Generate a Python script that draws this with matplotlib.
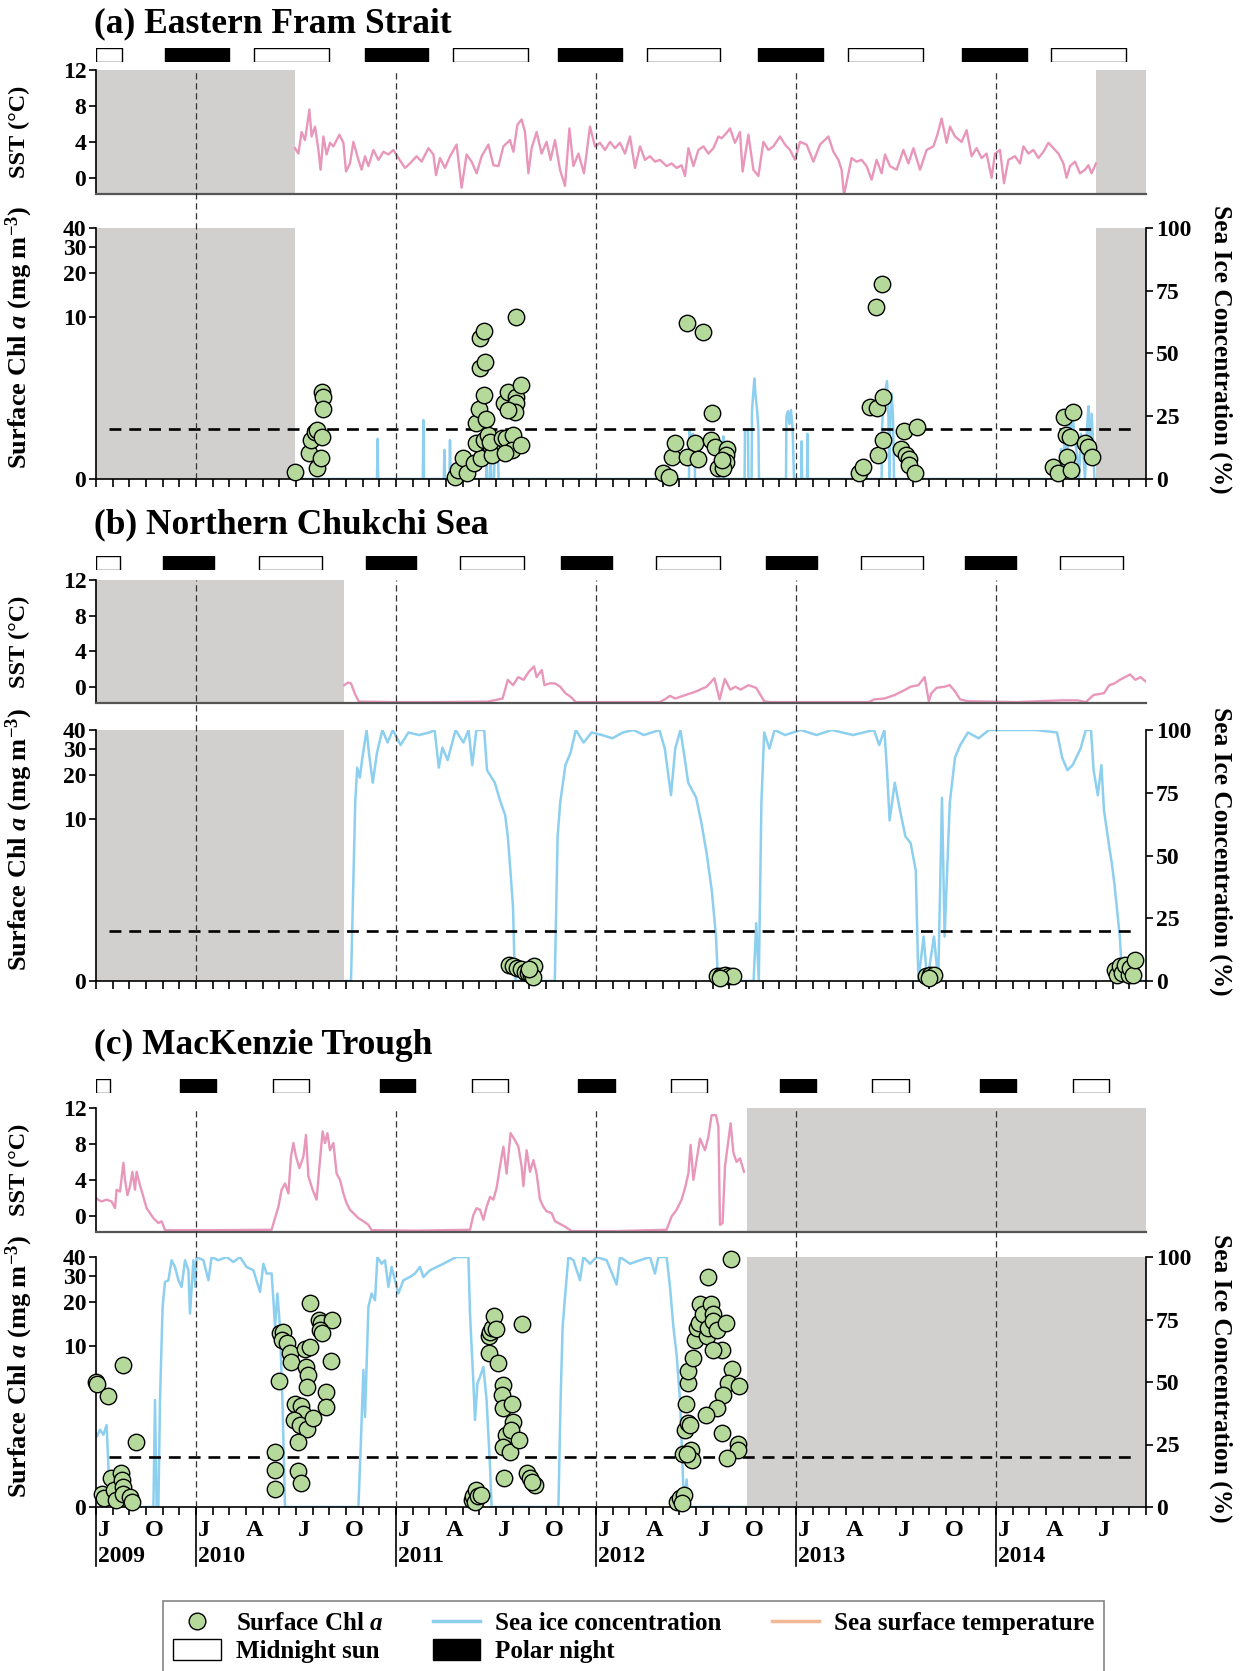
import numpy as np
import matplotlib
matplotlib.use("Agg")
import matplotlib.pyplot as plt
import matplotlib.transforms as mtransforms
from matplotlib.lines import Line2D
from matplotlib.patches import Patch
from matplotlib.ticker import NullLocator

plt.rcParams['font.family'] = ['Liberation Serif', 'DejaVu Serif']
plt.rcParams['font.weight'] = 'bold'
plt.rcParams['mathtext.fontset'] = 'custom'
plt.rcParams['mathtext.rm'] = 'Liberation Serif:bold'
plt.rcParams['mathtext.it'] = 'Liberation Serif:bold:italic'
plt.rcParams['mathtext.bf'] = 'Liberation Serif:bold'

# ---------------- data (time in decimal years) ----------------
FRAM_SST = [
    (2010.495, 3.3), (2010.512, 2.7), (2010.528, 5.1), (2010.545, 4.2), (2010.567, 7.6), (2010.578, 4.6),
    (2010.595, 5.7), (2010.612, 3.1), (2010.623, 0.9), (2010.637, 4.6), (2010.653, 2.6), (2010.670, 3.9),
    (2010.687, 3.5), (2010.717, 4.8), (2010.737, 3.9), (2010.750, 0.7), (2010.770, 1.6), (2010.787, 4.0),
    (2010.812, 2.0), (2010.828, 0.9), (2010.845, 2.4), (2010.862, 1.3), (2010.887, 3.1), (2010.912, 2.0),
    (2010.937, 2.9), (2010.962, 2.6), (2010.987, 3.1), (2011.012, 2.2), (2011.045, 1.1), (2011.070, 1.6),
    (2011.103, 2.4), (2011.128, 1.8), (2011.162, 3.3), (2011.187, 2.6), (2011.200, 0.3), (2011.220, 2.2),
    (2011.245, 1.1), (2011.270, 2.4), (2011.303, 3.7), (2011.328, -1.1), (2011.353, 2.6), (2011.378, 1.8),
    (2011.403, 0.5), (2011.428, 2.4), (2011.462, 3.7), (2011.487, 1.4), (2011.512, 1.3), (2011.537, 3.5),
    (2011.570, 4.2), (2011.587, 2.9), (2011.607, 5.9), (2011.628, 6.5), (2011.645, 5.1), (2011.662, 0.5),
    (2011.678, 3.3), (2011.703, 5.1), (2011.728, 2.7), (2011.753, 4.0), (2011.773, 2.0), (2011.795, 4.2),
    (2011.820, 0.9), (2011.845, -0.9), (2011.867, 5.5), (2011.887, 1.3), (2011.912, 2.7), (2011.940, 0.5),
    (2011.970, 5.7), (2011.995, 3.5), (2012.020, 3.9), (2012.045, 3.1), (2012.070, 4.0), (2012.095, 3.3),
    (2012.120, 3.9), (2012.145, 2.7), (2012.170, 4.6), (2012.195, 1.1), (2012.220, 3.5), (2012.245, 2.0),
    (2012.270, 2.4), (2012.295, 1.8), (2012.320, 2.0), (2012.353, 1.3), (2012.378, 1.6), (2012.403, 1.1),
    (2012.428, 1.4), (2012.445, 0.2), (2012.462, 3.3), (2012.487, 1.3), (2012.512, 3.1), (2012.537, 3.5),
    (2012.562, 2.7), (2012.587, 3.3), (2012.612, 4.6), (2012.628, 4.4), (2012.653, 5.0), (2012.670, 5.5),
    (2012.695, 3.9), (2012.720, 5.1), (2012.733, 0.7), (2012.762, 4.8), (2012.787, 0.9), (2012.812, 0.2),
    (2012.837, 4.0), (2012.862, 3.1), (2012.887, 3.5), (2012.920, 4.6), (2012.945, 3.7), (2012.970, 3.1),
    (2012.995, 2.0), (2013.020, 4.0), (2013.053, 3.7), (2013.087, 1.8), (2013.120, 3.7), (2013.162, 4.6),
    (2013.187, 2.9), (2013.212, 2.0), (2013.228, 0.9), (2013.240, -1.9), (2013.262, 0.5), (2013.278, 2.2),
    (2013.303, 1.8), (2013.328, 2.0), (2013.353, 1.3), (2013.378, -0.2), (2013.403, 2.0), (2013.428, 0.5),
    (2013.445, 2.6), (2013.470, 1.3), (2013.503, 0.9), (2013.537, 3.1), (2013.562, 1.6), (2013.587, 3.3),
    (2013.620, 0.9), (2013.653, 3.1), (2013.687, 3.5), (2013.707, 4.8), (2013.728, 6.6), (2013.753, 3.9),
    (2013.770, 5.7), (2013.795, 4.6), (2013.828, 4.0), (2013.853, 5.3), (2013.878, 2.4), (2013.903, 3.3),
    (2013.928, 2.2), (2013.953, 2.7), (2013.978, 0.0), (2013.995, 2.7), (2014.020, 3.1), (2014.040, -0.6),
    (2014.062, 2.0), (2014.095, 2.4), (2014.120, 1.6), (2014.137, 3.5), (2014.162, 2.7), (2014.187, 3.1),
    (2014.212, 2.2), (2014.237, 2.9), (2014.262, 3.9), (2014.287, 3.3), (2014.312, 2.7), (2014.337, 1.6),
    (2014.353, 0.0), (2014.370, 1.3), (2014.395, 1.8), (2014.420, 0.5), (2014.445, 0.9), (2014.462, 1.4),
    (2014.478, 0.5), (2014.500, 1.6),
]
FRAM_ICE = [
    (2010.495, 0), (2010.905, 0), (2010.908, 16), (2010.911, 0), (2011.134, 0), (2011.137, 23.5), (2011.140, 0),
    (2011.239, 0), (2011.242, 11.6), (2011.245, 0), (2011.267, 0), (2011.270, 15.5), (2011.273, 0),
    (2011.450, 0), (2011.453, 8.4), (2011.457, 0), (2011.470, 0), (2011.473, 10), (2011.477, 0),
    (2011.490, 0), (2011.493, 9), (2011.497, 8), (2011.510, 9), (2011.513, 0),
    (2012.465, 0), (2012.467, 19), (2012.475, 17), (2012.485, 18), (2012.493, 15), (2012.495, 0),
    (2012.635, 0), (2012.637, 17), (2012.640, 0), (2012.743, 0), (2012.745, 19.5), (2012.760, 19.5), (2012.762, 0),
    (2012.778, 0), (2012.780, 27), (2012.787, 35), (2012.792, 40), (2012.798, 33), (2012.805, 28), (2012.812, 20),
    (2012.815, 0), (2012.950, 0), (2012.952, 25), (2012.960, 27), (2012.967, 22), (2012.975, 27.5), (2012.983, 20),
    (2012.990, 0), (2013.026, 0), (2013.028, 15), (2013.031, 0), (2013.055, 0), (2013.057, 18), (2013.060, 0),
    (2013.428, 0), (2013.430, 20), (2013.437, 30), (2013.455, 39), (2013.462, 25), (2013.467, 0), (2013.470, 20),
    (2013.478, 34), (2013.485, 25), (2013.490, 0), (2014.320, 0), (2014.325, 12), (2014.335, 5), (2014.345, 18),
    (2014.355, 8), (2014.365, 22), (2014.375, 20), (2014.385, 23.5), (2014.395, 15), (2014.405, 10), (2014.415, 0),
    (2014.425, 18), (2014.435, 12), (2014.445, 0), (2014.455, 20), (2014.462, 29), (2014.470, 10), (2014.478, 26),
    (2014.485, 15), (2014.492, 0), (2014.500, 0),
]
FRAM_CHL = [
    (2010.495, 0.11), (2010.565, 0.46), (2010.575, 0.78), (2010.595, 1.01), (2010.603, 1.06), (2010.628, 0.87),
    (2010.607, 0.17), (2010.623, 0.36), (2010.628, 2.64), (2010.637, 2.35), (2010.633, 1.80),
    (2011.295, 0.03), (2011.312, 0.14), (2011.333, 0.36), (2011.353, 0.10), (2011.390, 0.26), (2011.425, 0.36),
    (2011.400, 0.70), (2011.440, 0.78), (2011.462, 0.92), (2011.473, 0.61), (2011.480, 0.43), (2011.470, 0.74),
    (2011.400, 1.28), (2011.415, 1.80), (2011.450, 1.42), (2011.442, 2.47), (2011.420, 4.14), (2011.445, 4.67),
    (2011.420, 7.02), (2011.442, 7.97), (2011.542, 2.06), (2011.558, 2.60), (2011.598, 2.35), (2011.600, 2.06),
    (2011.595, 1.71), (2011.562, 1.78), (2011.625, 3.02), (2011.528, 0.83), (2011.548, 0.83), (2011.587, 0.92),
    (2011.578, 0.54), (2011.625, 0.65), (2011.545, 0.46), (2011.598, 10.0),
    (2012.337, 0.09), (2012.367, 0.03), (2012.378, 0.39), (2012.395, 0.70), (2012.457, 9.0), (2012.537, 7.84),
    (2012.495, 0.70), (2012.457, 0.38), (2012.512, 0.35), (2012.582, 1.67), (2012.573, 0.78), (2012.595, 0.61),
    (2012.612, 0.17), (2012.653, 0.57), (2012.650, 0.43), (2012.648, 0.29), (2012.637, 0.17), (2012.628, 0.32),
    (2013.317, 0.10), (2013.337, 0.20), (2013.412, 0.43), (2013.433, 0.78), (2013.428, 16.9), (2013.400, 11.7),
    (2013.370, 1.89), (2013.403, 1.85), (2013.433, 2.38), (2013.540, 1.04), (2013.603, 1.15), (2013.525, 0.57),
    (2013.550, 0.43), (2013.565, 0.34), (2013.567, 0.23), (2013.595, 0.09),
    (2014.287, 0.20), (2014.312, 0.09), (2014.353, 0.39), (2014.373, 0.14), (2014.340, 1.51), (2014.383, 1.71),
    (2014.348, 0.92), (2014.370, 0.87), (2014.445, 0.70), (2014.462, 0.61), (2014.478, 0.38),
]
FRAM_GAPS = [(2009.5, 2010.495), (2014.5, 2014.75)]
FRAM_SUN = [(2009.5, 2009.632), (2010.288, 2010.664), (2011.283, 2011.662), (2012.253, 2012.62),
            (2013.258, 2013.633), (2014.273, 2014.65)]
FRAM_NIGHT = [(2009.846, 2010.166), (2010.845, 2011.162), (2011.812, 2012.128), (2012.812, 2013.133),
              (2013.832, 2014.153)]

CHUK_SST = [
    (2010.741, 0.2), (2010.760, 0.5), (2010.775, 0.4), (2010.795, -0.8), (2010.814, -1.64), (2011.000, -1.7),
    (2011.200, -1.7), (2011.455, -1.65), (2011.468, -1.6), (2011.533, -1.3), (2011.559, 0.8), (2011.585, 0.2),
    (2011.611, 1.1), (2011.638, 0.8), (2011.664, 1.7), (2011.690, 2.3), (2011.703, 1.1), (2011.729, 1.9),
    (2011.742, 0.2), (2011.768, 0.4), (2011.794, 0.4), (2011.821, 0.03), (2011.847, -0.7), (2011.873, -1.1),
    (2011.899, -1.7), (2012.100, -1.7), (2012.317, -1.7), (2012.344, -1.4), (2012.370, -1.0), (2012.396, -1.3),
    (2012.448, -0.9), (2012.501, -0.5), (2012.553, 0.03), (2012.592, 0.97), (2012.618, -1.4), (2012.644, 0.9),
    (2012.671, -0.3), (2012.697, 0.03), (2012.723, -0.3), (2012.762, 0.2), (2012.801, -0.1), (2012.841, -1.6),
    (2012.867, -1.7), (2013.100, -1.7), (2013.364, -1.7), (2013.390, -1.4), (2013.442, -1.3), (2013.494, -0.9),
    (2013.547, -0.3), (2013.573, 0.03), (2013.612, 0.2), (2013.643, 1.1), (2013.664, -1.6), (2013.677, -0.7),
    (2013.703, -0.1), (2013.743, 0.03), (2013.769, 0.2), (2013.795, -0.5), (2013.821, -1.4), (2013.860, -1.6),
    (2014.100, -1.7), (2014.331, -1.5), (2014.409, -1.5), (2014.449, -1.7), (2014.488, -0.9), (2014.540, -0.7),
    (2014.566, 0.2), (2014.593, 0.4), (2014.619, 0.8), (2014.645, 1.1), (2014.671, 1.4), (2014.697, 0.8),
    (2014.723, 1.1), (2014.749, 0.6),
]
CHUK_ICE = [
    (2010.741, 0), (2010.775, 0), (2010.796, 71), (2010.806, 85), (2010.819, 81), (2010.832, 89), (2010.853, 100),
    (2010.866, 90), (2010.884, 79), (2010.905, 91), (2010.932, 100), (2010.958, 95), (2010.984, 100),
    (2011.023, 94), (2011.062, 99), (2011.115, 98), (2011.167, 99), (2011.193, 100), (2011.214, 85),
    (2011.232, 93), (2011.258, 88), (2011.298, 100), (2011.337, 95), (2011.363, 100), (2011.381, 86),
    (2011.402, 100), (2011.441, 100), (2011.455, 84), (2011.494, 79), (2011.520, 72), (2011.546, 66),
    (2011.559, 57.6), (2011.572, 44), (2011.585, 29.6), (2011.591, 11), (2011.598, 0), (2011.794, 0),
    (2011.808, 57.6), (2011.821, 71), (2011.847, 86), (2011.873, 91), (2011.899, 100), (2011.938, 95),
    (2011.978, 99), (2012.030, 98), (2012.082, 96.7), (2012.134, 99), (2012.187, 100), (2012.239, 98),
    (2012.317, 100), (2012.344, 92.6), (2012.375, 74), (2012.396, 92.6), (2012.422, 100), (2012.443, 89),
    (2012.461, 79), (2012.501, 73), (2012.527, 63), (2012.553, 51), (2012.579, 36), (2012.600, 17.7),
    (2012.610, 0), (2012.788, 0), (2012.801, 23), (2012.814, 0), (2012.827, 71), (2012.841, 99), (2012.867, 92.6),
    (2012.893, 100), (2012.945, 98), (2013.024, 100), (2013.102, 98), (2013.180, 100), (2013.285, 98),
    (2013.390, 100), (2013.416, 94), (2013.442, 100), (2013.455, 84), (2013.468, 64), (2013.494, 79),
    (2013.520, 68), (2013.547, 57.6), (2013.573, 55), (2013.599, 44), (2013.612, 0), (2013.638, 17.7),
    (2013.656, 0), (2013.690, 17.7), (2013.711, 0), (2013.730, 73), (2013.743, 17.7), (2013.769, 71),
    (2013.795, 89), (2013.821, 94), (2013.860, 99), (2013.913, 96.7), (2013.965, 100), (2014.070, 100),
    (2014.200, 100), (2014.305, 99), (2014.331, 89), (2014.357, 84), (2014.383, 86), (2014.423, 92.6),
    (2014.449, 100), (2014.475, 100), (2014.488, 84), (2014.509, 74), (2014.527, 86), (2014.540, 68),
    (2014.566, 53.5), (2014.579, 47), (2014.593, 38), (2014.619, 17.7), (2014.632, 0), (2014.749, 0),
]
CHUK_CHL = [
    (2011.564, 0.27), (2011.585, 0.25), (2011.606, 0.22), (2011.624, 0.19), (2011.643, 0.14), (2011.659, 0.12),
    (2011.677, 0.09), (2011.690, 0.24), (2011.685, 0.06), (2011.664, 0.20),
    (2012.605, 0.07), (2012.626, 0.08), (2012.644, 0.09), (2012.663, 0.08), (2012.684, 0.07), (2012.618, 0.05),
    (2013.651, 0.07), (2013.672, 0.09), (2013.690, 0.10), (2013.664, 0.05),
    (2014.593, 0.18), (2014.606, 0.09), (2014.619, 0.24), (2014.632, 0.12), (2014.645, 0.27), (2014.666, 0.09),
    (2014.671, 0.22), (2014.684, 0.09), (2014.697, 0.36),
]
CHUK_GAPS = [(2009.5, 2010.741)]
CHUK_SUN = [(2009.5, 2009.622), (2010.314, 2010.628), (2011.321, 2011.64), (2012.301, 2012.62),
            (2013.323, 2013.637), (2014.32, 2014.633)]
CHUK_NIGHT = [(2009.835, 2010.091), (2010.852, 2011.102), (2011.827, 2012.082), (2012.85, 2013.105),
              (2013.845, 2014.101)]

MACK_SST = [
    (2009.500, 2.0), (2009.510, 1.8), (2009.528, 1.6), (2009.553, 1.8), (2009.578, 1.6), (2009.595, 0.85),
    (2009.603, 2.9), (2009.620, 2.7), (2009.637, 5.9), (2009.645, 4.0), (2009.657, 2.3), (2009.670, 3.3),
    (2009.682, 4.9), (2009.695, 2.9), (2009.703, 4.9), (2009.720, 3.4), (2009.737, 2.1), (2009.753, 0.85),
    (2009.770, 0.3), (2009.787, -0.26), (2009.812, -0.8), (2009.828, -0.6), (2009.845, -1.6), (2010.100, -1.6),
    (2010.378, -1.55), (2010.395, -0.26), (2010.412, 1.0), (2010.428, 2.9), (2010.445, 3.6), (2010.462, 2.5),
    (2010.475, 6.6), (2010.487, 8.1), (2010.500, 6.6), (2010.517, 5.3), (2010.537, 6.6), (2010.550, 9.0),
    (2010.562, 4.4), (2010.583, 2.9), (2010.603, 1.8), (2010.620, 6.2), (2010.633, 9.4), (2010.645, 8.1),
    (2010.657, 9.2), (2010.670, 7.3), (2010.687, 8.1), (2010.703, 4.7), (2010.720, 4.0), (2010.737, 2.5),
    (2010.753, 1.4), (2010.770, 0.67), (2010.787, 0.3), (2010.812, -0.26), (2010.837, -0.6), (2010.862, -1.0),
    (2010.878, -1.6), (2011.100, -1.65), (2011.370, -1.55), (2011.387, 0.1), (2011.403, 0.85), (2011.420, 0.67),
    (2011.437, -0.44), (2011.453, 1.0), (2011.470, 2.1), (2011.487, 1.8), (2011.503, 3.1), (2011.520, 5.5),
    (2011.537, 7.7), (2011.553, 4.7), (2011.573, 9.2), (2011.595, 8.4), (2011.612, 7.7), (2011.628, 5.5),
    (2011.637, 3.3), (2011.653, 7.3), (2011.670, 4.9), (2011.687, 6.2), (2011.703, 4.7), (2011.720, 1.8),
    (2011.737, 1.0), (2011.753, 0.5), (2011.778, 0.3), (2011.795, -0.6), (2011.812, -0.8), (2011.845, -1.2),
    (2011.878, -1.7), (2012.100, -1.7), (2012.353, -1.55), (2012.378, -0.07), (2012.403, 0.67), (2012.428, 1.8),
    (2012.445, 3.1), (2012.462, 4.7), (2012.473, 7.9), (2012.487, 4.0), (2012.503, 6.2), (2012.520, 8.6),
    (2012.545, 7.3), (2012.562, 8.8), (2012.578, 11.2), (2012.600, 11.2), (2012.612, 9.9), (2012.620, -1.0),
    (2012.633, -0.8), (2012.645, 5.5), (2012.662, 8.4), (2012.673, 10.3), (2012.687, 7.0), (2012.703, 6.0),
    (2012.720, 6.4), (2012.740, 4.9),
]
MACK_ICE = [
    (2009.500, 29.5), (2009.505, 28.2), (2009.520, 30.9), (2009.537, 28.9), (2009.553, 32.8), (2009.562, 16.2),
    (2009.570, 0), (2009.787, 0), (2009.795, 42.8), (2009.803, 0), (2009.812, 0), (2009.820, 42.8),
    (2009.833, 80), (2009.845, 90), (2009.862, 90.7), (2009.878, 98.7), (2009.895, 96), (2009.912, 90.7),
    (2009.928, 88), (2009.945, 98.7), (2009.962, 94.7), (2009.970, 77.4), (2009.987, 98.7), (2009.997, 88),
    (2010.003, 100), (2010.037, 98.7), (2010.062, 90.7), (2010.078, 100), (2010.112, 98.7), (2010.153, 100),
    (2010.187, 98), (2010.220, 100), (2010.253, 96), (2010.287, 94.7), (2010.320, 86), (2010.337, 97.3),
    (2010.353, 93.4), (2010.378, 93.4), (2010.387, 82.7), (2010.395, 72), (2010.407, 85.4), (2010.420, 72),
    (2010.433, 40), (2010.445, 0), (2010.812, 0), (2010.823, 22.9), (2010.837, 54.8), (2010.845, 36),
    (2010.862, 80), (2010.878, 85.4), (2010.895, 82.7), (2010.907, 100), (2010.928, 97.3), (2010.945, 98.7),
    (2010.962, 88), (2010.978, 96), (2010.995, 90.7), (2011.012, 85.4), (2011.037, 90.7), (2011.070, 92),
    (2011.095, 93.4), (2011.120, 96), (2011.137, 92), (2011.170, 94.7), (2011.203, 96), (2011.237, 97.3),
    (2011.270, 98.7), (2011.303, 100), (2011.362, 100), (2011.370, 77.4), (2011.387, 49.5), (2011.395, 34.8),
    (2011.407, 49.5), (2011.420, 52), (2011.437, 56), (2011.453, 42.8), (2011.470, 16.2), (2011.478, 0),
    (2011.812, 0), (2011.823, 42.8), (2011.833, 72), (2011.845, 84), (2011.862, 100), (2011.887, 98.7),
    (2011.920, 90.7), (2011.937, 100), (2011.970, 97.3), (2012.003, 100), (2012.053, 98.7), (2012.103, 89),
    (2012.120, 100), (2012.170, 97.3), (2012.220, 98.7), (2012.270, 100), (2012.295, 93.4), (2012.312, 100),
    (2012.353, 100), (2012.370, 88), (2012.387, 72), (2012.403, 61), (2012.420, 42.8), (2012.433, 16),
    (2012.440, 0), (2012.453, 11), (2012.462, 0), (2012.753, 0),
]
MACK_CHL = [
    (2009.500, 5.44), (2009.505, 5.2), (2009.562, 4.2), (2009.637, 7.24), (2009.700, 1.64), (2009.528, 0.21),
    (2009.540, 0.15), (2009.573, 0.53), (2009.590, 0.29), (2009.623, 0.65), (2009.632, 0.49), (2009.637, 0.35),
    (2009.600, 0.11), (2009.633, 0.22), (2009.670, 0.16), (2009.678, 0.08),
    (2010.395, 1.27), (2010.395, 0.73), (2010.395, 0.30), (2010.415, 5.5), (2010.420, 12.2), (2010.437, 12.5),
    (2010.428, 10.9), (2010.453, 10.4), (2010.470, 8.8), (2010.473, 7.66), (2010.495, 3.6), (2010.523, 3.5),
    (2010.533, 3.0), (2010.490, 2.64), (2010.520, 2.4), (2010.553, 2.2), (2010.583, 2.75), (2010.512, 1.64),
    (2010.512, 0.7), (2010.523, 0.43), (2010.545, 9.5), (2010.570, 9.7), (2010.550, 7.04), (2010.562, 6.1),
    (2010.557, 4.98), (2010.570, 19.8), (2010.617, 15.1), (2010.623, 14.3), (2010.678, 15.1), (2010.620, 12.8),
    (2010.632, 12.2), (2010.673, 7.8), (2010.650, 4.5), (2010.650, 3.44),
    (2011.378, 0.11), (2011.387, 0.17), (2011.400, 0.29), (2011.395, 0.08), (2011.412, 0.17), (2011.423, 0.20),
    (2011.467, 11.6), (2011.470, 12.5), (2011.478, 13.3), (2011.490, 16.1), (2011.500, 13.1), (2011.467, 8.8),
    (2011.512, 7.45), (2011.533, 5.1), (2011.528, 4.3), (2011.537, 3.33), (2011.578, 3.6), (2011.550, 1.9),
    (2011.587, 2.55), (2011.573, 2.14), (2011.537, 1.45), (2011.570, 1.27), (2011.617, 1.7), (2011.540, 0.53),
    (2011.628, 14.1), (2011.653, 0.65), (2011.670, 0.53), (2011.695, 0.39), (2011.678, 0.45),
    (2012.403, 0.08), (2012.420, 0.14), (2012.440, 0.19), (2012.428, 0.06), (2012.437, 1.2), (2012.473, 1.33),
    (2012.478, 1.0), (2012.453, 1.2), (2012.445, 2.14), (2012.462, 2.47), (2012.470, 2.4), (2012.450, 3.6),
    (2012.462, 5.3), (2012.462, 6.5), (2012.487, 8.1), (2012.495, 10.9), (2012.503, 13.2), (2012.517, 14.3),
    (2012.520, 19.4), (2012.537, 16.5), (2012.553, 11.7), (2012.562, 13.3), (2012.573, 19.4), (2012.583, 16.5),
    (2012.587, 14.8), (2012.603, 12.8), (2012.650, 14.3), (2012.628, 9.3), (2012.587, 9.3), (2012.562, 29.6),
    (2012.675, 39.0), (2012.678, 6.8), (2012.662, 5.3), (2012.717, 5.0), (2012.637, 4.3), (2012.603, 3.33),
    (2012.550, 2.95), (2012.628, 1.99), (2012.712, 1.55), (2012.712, 1.33), (2012.653, 1.07),
]
MACK_GAPS = [(2012.753, 2014.75)]
MACK_SUN = [(2009.5, 2009.569), (2010.383, 2010.565), (2011.379, 2011.56), (2012.375, 2012.556),
            (2013.382, 2013.563), (2014.383, 2014.564)]
MACK_NIGHT = [(2009.92, 2010.101), (2010.921, 2011.097), (2011.912, 2012.093), (2012.918, 2013.099),
              (2013.92, 2014.101)]

TITLES = ['(a) Eastern Fram Strait', '(b) Northern Chukchi Sea', '(c) MacKenzie Trough']
YEARS = [2009, 2010, 2011, 2012, 2013, 2014]
MONTH_LETTERS = {1: 'J', 4: 'A', 7: 'J', 10: 'O'}
ICE_THRESHOLD = 20

# ---------------- style / layout ----------------
SST_COLOR = '#e897bb'
ICE_COLOR = '#8dcfef'
CHL_FACE = '#b4d99b'
GRAY = '#d2cfcf'
X0, X1 = 2009.5, 2014.75
W_PX, H_PX, DPI = 1241, 1671, 100
LEFT, RIGHT = 96, 1146
TICK_FS = 17

# pixel rows (from top) of each panel: title, bar strip, SST axes, Chl axes
LAYOUT = [
    dict(title=24, bars=(48, 62), sst=(70, 194), chl=(228, 479)),
    dict(title=525, bars=(556, 570), sst=(580, 703), chl=(730, 981)),
    dict(title=1045, bars=(1079, 1093), sst=(1108, 1232), chl=(1257, 1507)),
]

fig = plt.figure(figsize=(W_PX / DPI, H_PX / DPI), dpi=DPI)


def rect(top, bottom):
    return [LEFT / W_PX, 1 - bottom / H_PX, (RIGHT - LEFT) / W_PX, (bottom - top) / H_PX]


def unpack(pairs):
    a = np.array(pairs, dtype=float)
    return a[:, 0], a[:, 1]


month_ticks = X0 + np.arange(0, 64) / 12.0


def draw_panel(i, sst, ice, chl, gaps, sun, night, bottom_labels):
    lay = LAYOUT[i]

    fig.text(LEFT / W_PX - 0.002, 1 - lay['title'] / H_PX, TITLES[i], fontsize=25.5,
             fontweight='bold', ha='left', va='center')

    # polar day / night strip
    axb = fig.add_axes(rect(*lay['bars']))
    axb.set_xlim(X0, X1)
    axb.set_ylim(0, 1)
    axb.axis('off')
    axb.broken_barh([(s, e - s) for s, e in sun], (0, 1), facecolors='white',
                    edgecolors='black', linewidth=1.0)
    axb.broken_barh([(s, e - s) for s, e in night], (0, 1), facecolors='black',
                    edgecolors='black', linewidth=1.0)

    # SST
    axs = fig.add_axes(rect(*lay['sst']))
    axs.set_xlim(X0, X1)
    axs.set_ylim(-1.8, 12)
    for s, e in gaps:
        axs.axvspan(s, e, color=GRAY, lw=0, zorder=0)
    t, v = unpack(sst)
    axs.plot(t, v, color=SST_COLOR, lw=1.7, zorder=2)
    axs.set_yticks([0, 4, 8, 12])
    axs.set_xticks([])
    axs.spines['top'].set_visible(False)
    axs.spines['right'].set_visible(False)
    axs.spines['bottom'].set_color('#555555')
    axs.spines['bottom'].set_linewidth(1.6)
    axs.spines['left'].set_linewidth(1.2)
    axs.tick_params(axis='y', direction='out', length=5, width=1.2, labelsize=TICK_FS, pad=2)
    sst_mid = (lay['sst'][0] + lay['sst'][1]) / 2
    fig.text(19 / W_PX, 1 - sst_mid / H_PX, 'SST (°C)', rotation=90, fontsize=17.5,
             fontweight='bold', ha='center', va='center')

    # Chl (left, log1p scale) over sea ice (right, linear)
    axc = fig.add_axes(rect(*lay['chl']))
    axi = axc.twinx()
    axc.set_zorder(axi.get_zorder() + 1)
    axc.patch.set_visible(False)

    axi.set_xlim(X0, X1)
    axi.set_ylim(0, 100)
    for s, e in gaps:
        axi.axvspan(s, e, color=GRAY, lw=0, zorder=0)
    t, v = unpack(ice)
    axi.plot(t, v, color=ICE_COLOR, lw=1.8, zorder=2)
    axi.axhline(ICE_THRESHOLD, xmin=0.012, xmax=0.992, color='black', lw=1.9,
                ls=(0, (4.5, 3)), zorder=3)
    axi.set_yticks([0, 25, 50, 75, 100])
    axi.tick_params(axis='y', direction='out', length=5, width=1.2, labelsize=TICK_FS, pad=2)
    for side in ['top', 'left', 'bottom']:
        axi.spines[side].set_visible(False)
    axi.spines['right'].set_linewidth(1.2)

    axc.set_xlim(X0, X1)
    axc.set_yscale('function', functions=(np.log1p, np.expm1))
    axc.set_ylim(0, 40)
    axc.set_yticks([0, 10, 20, 30, 40])
    axc.yaxis.set_minor_locator(NullLocator())
    t, v = unpack(chl)
    axc.scatter(t, v, s=140, facecolor=CHL_FACE, edgecolor='black', linewidth=1.0,
                zorder=4, clip_on=False)
    axc.set_xticks(month_ticks)
    axc.set_xticklabels([])
    axc.tick_params(axis='x', direction='out', length=6, width=1.2)
    axc.tick_params(axis='y', direction='out', length=5, width=1.2, labelsize=TICK_FS, pad=2)
    axc.spines['top'].set_visible(False)
    axc.spines['right'].set_visible(False)
    axc.spines['left'].set_linewidth(1.2)
    axc.spines['bottom'].set_linewidth(1.2)

    chl_mid = (lay['chl'][0] + lay['chl'][1]) / 2
    fig.text(19 / W_PX, 1 - (chl_mid - 16) / H_PX, 'Surface Chl $a$ (mg m$^{-3}$)',
             rotation=90, fontsize=19, fontweight='bold', ha='center', va='center')
    fig.text(1221 / W_PX, 1 - (chl_mid - 4) / H_PX, 'Sea Ice Concentration (%)',
             rotation=270, fontsize=18.3, fontweight='bold', ha='center', va='center')

    # year boundary dashed lines across the whole panel
    axo = fig.add_axes(rect(lay['sst'][0], lay['chl'][1]))
    axo.set_xlim(X0, X1)
    axo.set_ylim(0, 1)
    axo.axis('off')
    axo.patch.set_visible(False)
    axo.set_zorder(axc.get_zorder() + 1)
    for yr in YEARS[1:]:
        axo.axvline(yr, color='#333333', lw=0.9, ls=(0, (5, 3)))

    if bottom_labels:
        trans = mtransforms.blended_transform_factory(axc.transData, axc.transAxes)
        for yr in YEARS:
            x = max(yr, X0)
            axc.add_line(Line2D([x, x], [0, -0.235], transform=trans, color='black',
                                lw=1.2, clip_on=False))
            axc.text(x + 0.012, -0.2, str(yr), transform=trans, fontsize=17,
                     fontweight='bold', ha='left', va='center')
            for m, letter in MONTH_LETTERS.items():
                xm = yr + (m - 0.5) / 12.0
                if X0 < xm < X1:
                    axc.text(xm, -0.095, letter, transform=trans, fontsize=17.5,
                             fontweight='bold', ha='center', va='center')


draw_panel(0, FRAM_SST, FRAM_ICE, FRAM_CHL, FRAM_GAPS, FRAM_SUN, FRAM_NIGHT, False)
draw_panel(1, CHUK_SST, CHUK_ICE, CHUK_CHL, CHUK_GAPS, CHUK_SUN, CHUK_NIGHT, False)
draw_panel(2, MACK_SST, MACK_ICE, MACK_CHL, MACK_GAPS, MACK_SUN, MACK_NIGHT, True)

# legend
handles = [
    Line2D([], [], ls='none', marker='o', markersize=12, markerfacecolor=CHL_FACE,
           markeredgecolor='black', markeredgewidth=1.0),
    Patch(facecolor='white', edgecolor='black', linewidth=1.0),
    Line2D([], [], color=ICE_COLOR, lw=2.5),
    Patch(facecolor='black', edgecolor='black'),
    Line2D([], [], color='#f3b995', lw=2.5),
]
labels = ['Surface Chl $a$', 'Midnight sun', 'Sea ice concentration', 'Polar night',
          'Sea surface temperature']
leg = fig.legend(handles, labels, ncol=3, loc='upper left',
                 bbox_to_anchor=(163 / W_PX, 1 - 1601 / H_PX), borderaxespad=0,
                 prop={'family': 'Liberation Serif', 'weight': 'bold', 'size': 18},
                 frameon=True, fancybox=False, edgecolor='#666666', handlelength=1.9,
                 handleheight=0.9, handletextpad=0.6, columnspacing=2.0,
                 labelspacing=0.15, borderpad=0.4)
leg.get_frame().set_linewidth(1.2)

fig.savefig('out.png', dpi=DPI)
